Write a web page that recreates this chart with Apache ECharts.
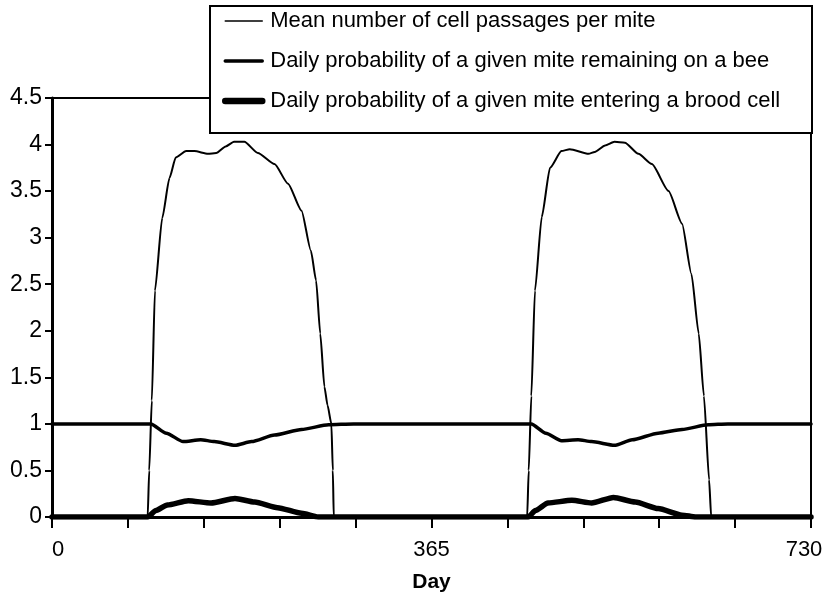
<!DOCTYPE html>
<html>
<head>
<meta charset="utf-8">
<script src="https://cdn.jsdelivr.net/npm/echarts@6/dist/echarts.min.js"></script>
<style>
  html, body { margin: 0; padding: 0; background: #fff; }
  #chart { width: 824px; height: 597px; }
</style>
</head>
<body>
<div id="chart"></div>
<script>
// Two-year simulation of mite behaviour (days 0-730)
const seriesNames = [
  'Mean number of cell passages per mite',
  'Daily probability of a given mite remaining on a bee',
  'Daily probability of a given mite entering a brood cell'
];

// Mean number of cell passages per mite
const passageDays = [0, 92, 93.5, 96, 99, 106, 113, 119, 129, 137, 150, 158, 167, 175, 185, 198, 214, 227, 240, 249, 254, 258, 262, 265, 268.7, 270.1, 271, 365, 457, 458.5, 461, 464.5, 471, 479, 490, 498, 516, 522, 532, 541, 551, 564, 577, 593, 606, 615, 622, 627, 632, 634, 730];
const passageValues = [0, 0, 0.5, 1.25, 2.43, 3.21, 3.64, 3.86, 3.93, 3.93, 3.90, 3.91, 3.98, 4.03, 4.03, 3.91, 3.79, 3.58, 3.29, 2.86, 2.54, 1.97, 1.4, 1.2, 1.0, 0.5, 0, 0, 0, 0.5, 1.3, 2.43, 3.22, 3.75, 3.93, 3.95, 3.90, 3.92, 3.99, 4.03, 4.02, 3.90, 3.79, 3.50, 3.15, 2.61, 1.97, 1.3, 0.4, 0, 0];

// Daily probability of remaining on a bee
const beeDays = [0, 95, 110, 126, 143, 156, 176, 192, 214, 240, 266, 290, 304, 365, 461, 475, 490, 506, 519, 541, 558, 583, 606, 631, 650, 730];
const beeValues = [1, 1, 0.9, 0.81, 0.83, 0.81, 0.77, 0.81, 0.88, 0.94, 0.99, 1.0, 1.0, 1.0, 1.0, 0.9, 0.82, 0.83, 0.81, 0.77, 0.83, 0.9, 0.94, 0.99, 1.0, 1.0];

// Daily probability of entering a brood cell
const broodDays = [0, 92, 100, 111, 131, 153, 176, 195, 217, 240, 256, 365, 458, 465, 477, 500, 519, 540, 561, 583, 606, 619, 730];
const broodValues = [0, 0, 0.07, 0.13, 0.175, 0.15, 0.2, 0.16, 0.10, 0.04, 0, 0, 0, 0.07, 0.15, 0.18, 0.15, 0.21, 0.16, 0.09, 0.02, 0, 0];

// Axis ticks
const xLabelled = [0, 365, 730];
const lineWidths = [2, 3.5, 5.5];
const legendLineWidths = [1.5, 3.5, 6.5];

const pairs = (xs, ys) => xs.map((x, i) => [x, ys[i]]);
const font = '"Liberation Sans", Arial, sans-serif';

const chart = echarts.init(document.getElementById('chart'), null, { renderer: 'canvas' });

chart.setOption({
  animation: false,
  backgroundColor: '#fff',
  grid: {
    left: 52, right: 13, top: 98, bottom: 80,
    outerBoundsMode: 'none', containLabel: false,
    show: true, borderColor: '#000', borderWidth: 2, backgroundColor: 'transparent'
  },
  xAxis: {
    type: 'value',
    min: 0, max: 730, interval: 73,
    name: 'Day', nameLocation: 'middle', nameGap: 55,
    nameTextStyle: { fontFamily: font, fontSize: 21, fontWeight: 'bold', color: '#000' },
    axisLine: { show: true, lineStyle: { color: '#000', width: 3 } },
    axisTick: { show: true, length: 11, lineStyle: { color: '#000', width: 2 } },
    axisLabel: {
      margin: 22, fontFamily: font, fontSize: 22, color: '#000',
      showMinLabel: true, showMaxLabel: true, hideOverlap: false,
      alignMinLabel: 'left',
      // the last label is nudged left so it stays inside the canvas
      formatter: v => v === xLabelled[xLabelled.length - 1] ? '{last|' + v + '}'
        : (xLabelled.includes(v) ? String(v) : ''),
      rich: { last: { fontFamily: font, fontSize: 22, color: '#000', padding: [0, 14, 0, 0] } }
    },
    splitLine: { show: false }
  },
  yAxis: {
    type: 'value',
    min: 0, max: 4.5, interval: 0.5,
    axisLine: { show: true, lineStyle: { color: '#000', width: 3 } },
    axisTick: { show: true, length: 7, lineStyle: { color: '#000', width: 2 } },
    axisLabel: { margin: 10, fontFamily: font, fontSize: 23, color: '#000' },
    splitLine: { show: false }
  },
  graphic: [{
    type: 'rect', z: 50,
    shape: { x: 210, y: 6, width: 602, height: 127 },
    style: { fill: '#fff', stroke: '#000', lineWidth: 2 }
  }],
  legend: {
    z: 60,
    orient: 'vertical',
    left: 217, top: 5,
    itemWidth: 37, itemHeight: 16, itemGap: 18,
    itemStyle: { color: 'rgba(0,0,0,0)', borderWidth: 0, opacity: 0 },
    textStyle: { fontFamily: font, fontSize: 22, color: '#000', padding: [0, 0, 0, 3] },
    data: seriesNames.map((n, i) => ({
      name: n,
      itemStyle: { color: 'rgba(0,0,0,0)', borderWidth: 0, opacity: 0 },
      lineStyle: { width: legendLineWidths[i], color: '#000', opacity: 1 }
    }))
  },
  series: [
    { name: seriesNames[0], data: pairs(passageDays, passageValues) },
    { name: seriesNames[1], data: pairs(beeDays, beeValues) },
    { name: seriesNames[2], data: pairs(broodDays, broodValues) }
  ].map((s, i) => Object.assign(s, {
    type: 'line', symbol: 'none', smooth: 0.2, smoothMonotone: 'x', z: 3,
    lineStyle: { color: '#000', width: lineWidths[i], cap: 'round', join: 'round' },
    itemStyle: { color: '#000' }
  }))
});
</script>
</body>
</html>
